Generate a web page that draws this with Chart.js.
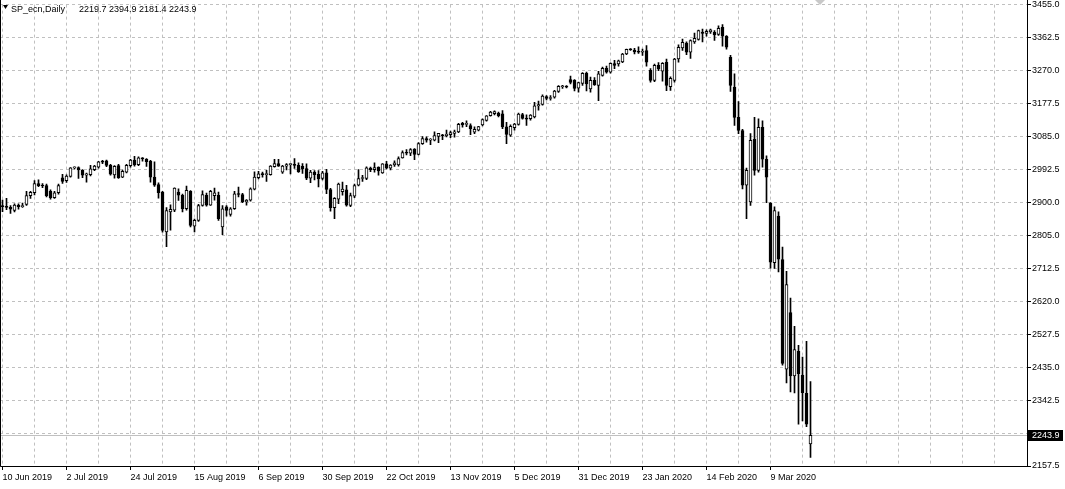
<!DOCTYPE html>
<html>
<head>
<meta charset="utf-8">
<script src="https://cdn.jsdelivr.net/npm/chart.js@4.4.1/dist/chart.umd.min.js"></script>
<style>
html, body { margin: 0; padding: 0; background: #fff; }
canvas { display: block; }
</style>
</head>
<body>
<canvas id="chart" width="1065" height="489"></canvas>
<script>
// SP_ecn, Daily - bougies
const dates = [
  '2019-06-10','2019-06-11','2019-06-12','2019-06-13','2019-06-14','2019-06-17','2019-06-18','2019-06-19','2019-06-20','2019-06-21',
  '2019-06-24','2019-06-25','2019-06-26','2019-06-27','2019-06-28','2019-07-01','2019-07-02','2019-07-03','2019-07-04','2019-07-05',
  '2019-07-08','2019-07-09','2019-07-10','2019-07-11','2019-07-12','2019-07-15','2019-07-16','2019-07-17','2019-07-18','2019-07-19',
  '2019-07-22','2019-07-23','2019-07-24','2019-07-25','2019-07-26','2019-07-29','2019-07-30','2019-07-31','2019-08-01','2019-08-02',
  '2019-08-05','2019-08-06','2019-08-07','2019-08-08','2019-08-09','2019-08-12','2019-08-13','2019-08-14','2019-08-15','2019-08-16',
  '2019-08-19','2019-08-20','2019-08-21','2019-08-22','2019-08-23','2019-08-26','2019-08-27','2019-08-28','2019-08-29','2019-08-30',
  '2019-09-02','2019-09-03','2019-09-04','2019-09-05','2019-09-06','2019-09-09','2019-09-10','2019-09-11','2019-09-12','2019-09-13',
  '2019-09-16','2019-09-17','2019-09-18','2019-09-19','2019-09-20','2019-09-23','2019-09-24','2019-09-25','2019-09-26','2019-09-27',
  '2019-09-30','2019-10-01','2019-10-02','2019-10-03','2019-10-04','2019-10-07','2019-10-08','2019-10-09','2019-10-10','2019-10-11',
  '2019-10-14','2019-10-15','2019-10-16','2019-10-17','2019-10-18','2019-10-21','2019-10-22','2019-10-23','2019-10-24','2019-10-25',
  '2019-10-28','2019-10-29','2019-10-30','2019-10-31','2019-11-01','2019-11-04','2019-11-05','2019-11-06','2019-11-07','2019-11-08',
  '2019-11-11','2019-11-12','2019-11-13','2019-11-14','2019-11-15','2019-11-18','2019-11-19','2019-11-20','2019-11-21','2019-11-22',
  '2019-11-25','2019-11-26','2019-11-27','2019-11-28','2019-11-29','2019-12-02','2019-12-03','2019-12-04','2019-12-05','2019-12-06',
  '2019-12-09','2019-12-10','2019-12-11','2019-12-12','2019-12-13','2019-12-16','2019-12-17','2019-12-18','2019-12-19','2019-12-20',
  '2019-12-23','2019-12-24','2019-12-27','2019-12-30','2019-12-31','2020-01-02','2020-01-03','2020-01-06','2020-01-07','2020-01-08',
  '2020-01-09','2020-01-10','2020-01-13','2020-01-14','2020-01-15','2020-01-16','2020-01-17','2020-01-20','2020-01-21','2020-01-22',
  '2020-01-23','2020-01-24','2020-01-27','2020-01-28','2020-01-29','2020-01-30','2020-01-31','2020-02-03','2020-02-04','2020-02-05',
  '2020-02-06','2020-02-07','2020-02-10','2020-02-11','2020-02-12','2020-02-13','2020-02-14','2020-02-17','2020-02-18','2020-02-19',
  '2020-02-20','2020-02-21','2020-02-24','2020-02-25','2020-02-26','2020-02-27','2020-02-28','2020-03-02','2020-03-03','2020-03-04',
  '2020-03-05','2020-03-06','2020-03-09','2020-03-10','2020-03-11','2020-03-12','2020-03-13','2020-03-16','2020-03-17','2020-03-18',
  '2020-03-19','2020-03-20','2020-03-23'
];

const open = [
  2889,2887,2885,2876,2891,2887,2893,2918,2926,2952, 2946,2946,2930,2912,2926,2968,2960,2972,2996,2997,
  2989,2975,2977,2991,2998,3015,3016,3003,2976,3002, 2970,2984,3002,3018,3005,3023,3020,3014,2970,2949,
  2928,2816,2872,2877,2928,2919,2881,2930,2832,2848, 2890,2919,2891,2918,2919,2830,2886,2865,2881,2923,
  2921,2900,2905,2936,2968,2978,2977,2977,2999,3008, 2984,3001,3005,3006,3003,3000,2994,2967,2984,2978,
  2966,2982,2935,2884,2908,2929,2934,2890,2916,2947, 2966,2966,2995,2991,2998,2982,3007,2995,3004,3004,
  3024,3039,3037,3049,3034,3064,3078,3074,3074,3084, 3088,3086,3089,3093,3097,3121,3118,3115,3096,3102,
  3117,3129,3143,3148,3150,3148,3111,3088,3109,3118, 3146,3136,3134,3139,3170,3174,3196,3191,3195,3211,
  3224,3224,3244,3242,3220,3233,3262,3218,3242,3228, 3256,3276,3265,3289,3288,3294,3316,3329,3327,3322,
  3321,3326,3270,3242,3284,3268,3293,3224,3242,3302, 3333,3347,3321,3350,3357,3378,3374,3378,3377,3371,
  3391,3366,3307,3223,3138,3101,2947,2900,3076,2989, 3110,3020,2897,2729,2860,2738,2430,2589,2411,2480,
  2413,2362,2219.7
];
const high = [
  2905,2910,2890,2895,2895,2897,2930,2930,2960,2962, 2952,2950,2934,2930,2950,2978,2976,2997,2999,2999,
  2991,2981,3003,3003,3014,3017,3018,3006,3002,3006, 2990,3006,3020,3028,3027,3025,3022,3017,3013,2954,
  2930,2884,2892,2940,2937,2922,2945,2932,2852,2893, 2931,2925,2933,2939,2928,2890,2890,2884,2930,2942,
  2924,2907,2940,2985,2986,2984,2989,3002,3020,3020, 3003,3008,3008,3022,3010,3008,3007,2989,2988,2988,
  2986,2992,2938,2912,2953,2956,2947,2925,2950,2991, 2975,2999,2998,3010,2999,3008,3014,3005,3016,3027,
  3044,3047,3050,3050,3067,3084,3083,3078,3097,3093, 3090,3102,3099,3102,3121,3124,3128,3120,3111,3113,
  3134,3143,3155,3156,3153,3157,3124,3117,3121,3150, 3149,3145,3146,3180,3184,3201,3199,3199,3214,3227,
  3228,3227,3254,3244,3237,3264,3265,3251,3250,3267, 3279,3282,3291,3298,3299,3318,3330,3331,3332,3336,
  3330,3340,3275,3288,3292,3292,3302,3252,3304,3342, 3358,3350,3356,3375,3383,3386,3384,3386,3382,3395,
  3399,3368,3312,3260,3182,3104,2995,3092,3138,3134, 3128,3030,2898,2886,2872,2773,2705,2630,2550,2497,
  2464,2508,2394.9
];
const low = [
  2873,2878,2868,2872,2880,2885,2890,2910,2920,2943, 2940,2914,2908,2910,2922,2952,2955,2970,2993,2966,
  2968,2956,2973,2988,2995,3008,2999,2975,2967,2966, 2968,2982,2998,3001,3002,3015,3000,2956,2944,2911,
  2815,2774,2821,2873,2904,2872,2877,2830,2816,2845, 2888,2888,2890,2905,2848,2808,2860,2860,2879,2914,
  2898,2891,2902,2934,2965,2970,2958,2975,2998,3000, 2980,2990,2979,2994,2983,2980,2963,2954,2962,2942,
  2962,2923,2874,2853,2895,2919,2888,2887,2912,2945, 2958,2963,2985,2984,2975,2980,2993,2990,3000,3001,
  3023,3032,3030,3019,3032,3062,3068,3061,3072,3067, 3075,3083,3081,3082,3095,3110,3112,3089,3092,3100,
  3114,3127,3141,3145,3139,3106,3064,3084,3102,3116, 3133,3115,3130,3136,3158,3172,3187,3186,3192,3208,
  3219,3221,3232,3212,3209,3228,3212,3209,3228,3185, 3254,3262,3262,3275,3282,3292,3314,3326,3316,3318,
  3312,3282,3237,3238,3269,3240,3213,3214,3237,3293, 3326,3314,3304,3346,3355,3350,3366,3374,3354,3368,
  3338,3330,3211,3115,3092,2937,2853,2890,2975,2984, 2998,2898,2714,2713,2703,2441,2391,2366,2363,2275,
  2284,2268,2181.4
];
const close = [
  2887,2885,2880,2891,2887,2890,2918,2927,2952,2946, 2945,2918,2912,2926,2946,2958,2973,2996,2997,2990,
  2975,2979,2993,3001,3013,3012,3003,2978,3000,2968, 2986,3003,3018,3004,3024,3021,3013,2970,2947,2926,
  2820,2876,2879,2939,2919,2881,2933,2834,2848,2890, 2921,2891,2930,2926,2853,2881,2876,2881,2923,2921,
  2900,2905,2937,2970,2979,2977,2978,3001,3008,3001, 3001,3005,3006,3003,2985,2993,2967,2984,2977,2965,
  2982,2935,2884,2910,2950,2936,2891,2918,2946,2966, 2968,2996,2991,2997,2987,3007,2995,3004,3010,3022,
  3039,3037,3047,3034,3064,3078,3074,3076,3087,3093, 3086,3091,3095,3097,3118,3117,3119,3106,3104,3112,
  3132,3142,3153,3154,3143,3111,3090,3113,3119,3147, 3135,3133,3144,3170,3174,3198,3191,3193,3212,3225,
  3225,3223,3236,3219,3236,3262,3232,3242,3230,3260, 3276,3265,3290,3284,3297,3316,3329,3328,3322,3321,
  3322,3293,3242,3284,3274,3290,3228,3248,3302,3335, 3349,3321,3354,3360,3382,3374,3380,3384,3370,3388,
  3366,3335,3228,3138,3101,2947,2989,3073,2989,3110, 3020,2970,2731,2876,2739,2446,2668,2411,2485,2417,
  2364,2275,2243.9
];

// graduations de l'axe des prix (de haut en bas)
const yTickLabels = ['3455.0','3362.5','3270.0','3177.5','3085.0','2992.5','2900.0','2805.0',
                     '2712.5','2620.0','2527.5','2435.0','2342.5','2250.0','2157.5'];
const yTop = 3455.0;
const yBottom = 2157.5;

const symbolName = 'SP_ecn,Daily';
const months = ['Jan','Feb','Mar','Apr','May','Jun','Jul','Aug','Sep','Oct','Nov','Dec'];

const FONT = '"Liberation Sans", Arial, sans-serif';
const GRID = '#c0c0c0';

const fmtDate = (s) => {
    const p = s.split('-');
    return parseInt(p[2], 10) + ' ' + months[parseInt(p[1], 10) - 1] + ' ' + p[0];
};

// lignes verticales toutes les 8 barres, étiquettes toutes les 16
const xGrid = [];
for (let v = 0; v <= 248; v += 8) xGrid.push(v);

const bodies = dates.map((d, i) => ({ x: i, y: [open[i], close[i]] }));
const wicks = dates.map((d, i) => ({ x: i, y: [low[i], high[i]] }));

const last = close.length - 1;

// Dessins façon MetaTrader (ligne de prix, cadre, étiquettes)
const mtPlugin = {
    id: 'mtDecor',
    beforeDatasetsDraw(chart) {
        const { ctx, chartArea: a, scales: { y } } = chart;
        const py = Math.round(y.getPixelForValue(close[last])) + 0.5;
        ctx.save();
        ctx.strokeStyle = GRID;
        ctx.lineWidth = 1;
        ctx.beginPath();
        ctx.moveTo(a.left, py);
        ctx.lineTo(a.right, py);
        ctx.stroke();
        ctx.restore();
    },
    afterDraw(chart) {
        const { ctx, chartArea: a, scales: { y } } = chart;
        ctx.save();

        // cadre
        ctx.strokeStyle = '#000';
        ctx.lineWidth = 1;
        ctx.beginPath();
        ctx.moveTo(0.5, 0);
        ctx.lineTo(0.5, a.bottom + 0.5);
        ctx.lineTo(a.right + 0.5, a.bottom + 0.5);
        ctx.lineTo(a.right + 0.5, 0);
        ctx.stroke();

        // étiquette du dernier prix
        const py = Math.round(y.getPixelForValue(close[last]));
        ctx.fillStyle = '#000';
        ctx.fillRect(a.right + 1, py - 5, 35, 11);
        ctx.fillStyle = '#fff';
        ctx.font = '9px ' + FONT;
        ctx.textBaseline = 'middle';
        ctx.textAlign = 'left';
        ctx.fillText(close[last].toFixed(1), a.right + 5, py + 0.5);

        // légende en haut à gauche
        ctx.fillStyle = '#000';
        ctx.beginPath();
        ctx.moveTo(3, 5);
        ctx.lineTo(8, 5);
        ctx.lineTo(5.5, 9);
        ctx.closePath();
        ctx.fill();
        ctx.textBaseline = 'alphabetic';
        ctx.fillText(symbolName, 11, 12);
        const ohlc = [open[last], high[last], low[last], close[last]].map(v => v.toFixed(1)).join(' ');
        ctx.fillText(ohlc, 79, 12);

        // repère gris de décalage
        ctx.fillStyle = '#c8c8c8';
        ctx.beginPath();
        ctx.moveTo(815, 0);
        ctx.lineTo(825, 0);
        ctx.lineTo(820, 5);
        ctx.closePath();
        ctx.fill();

        ctx.restore();
    }
};

const chartEl = document.getElementById('chart');

if (chartEl && typeof Chart !== 'undefined') {
    new Chart(chartEl.getContext('2d'), {
        type: 'bar',
        data: {
            datasets: [{
                label: 'corps',
                data: bodies,
                order: 0,
                grouped: false,
                barThickness: 3,
                minBarLength: 1,
                borderWidth: 1,
                borderColor: '#000',
                borderSkipped: false,
                backgroundColor: (c) => close[c.dataIndex] >= open[c.dataIndex] ? '#fff' : '#000'
            }, {
                label: 'mèches',
                data: wicks,
                order: 1,
                grouped: false,
                barThickness: 1,
                minBarLength: 1,
                borderWidth: 0,
                backgroundColor: '#000'
            }]
        },
        options: {
            responsive: false,
            animation: false,
            events: [],
            layout: { padding: { top: 4, left: 0, right: 0, bottom: 0 } },
            plugins: { legend: { display: false }, tooltip: { enabled: false } },
            scales: {
                x: {
                    type: 'linear',
                    min: -0.625,
                    max: 256.125,
                    offset: false,
                    afterBuildTicks: (s) => { s.ticks = xGrid.map(v => ({ value: v })); },
                    afterFit: (s) => { s.height = 23; },
                    grid: {
                        offset: false,
                        color: GRID,
                        lineWidth: 1,
                        tickLength: 4,
                        tickBorderDash: [],
                        tickColor: (c) => (c.tick && c.tick.value % 16 === 0 && c.tick.value < dates.length) ? '#000' : 'rgba(0,0,0,0)'
                    },
                    border: { display: false, dash: [3, 3] },
                    ticks: {
                        autoSkip: false,
                        maxRotation: 0,
                        align: 'start',
                        padding: 2,
                        color: '#000',
                        font: { family: FONT, size: 9 },
                        callback: (v) => (v % 16 === 0 && v < dates.length) ? fmtDate(dates[v]) : ''
                    }
                },
                y: {
                    position: 'right',
                    min: yBottom,
                    max: yTop,
                    afterBuildTicks: (s) => {
                        const step = (yTop - yBottom) / (yTickLabels.length - 1);
                        s.ticks = yTickLabels.map((t, k) => ({ value: yTop - k * step }));
                    },
                    afterFit: (s) => { s.width = 38; },
                    grid: {
                        color: GRID,
                        lineWidth: 1,
                        tickLength: 4,
                        tickBorderDash: [],
                        tickColor: '#000'
                    },
                    border: { display: false, dash: [3, 3] },
                    ticks: {
                        autoSkip: false,
                        padding: 1,
                        color: '#000',
                        font: { family: FONT, size: 9, lineHeight: 0.8 },
                        callback: (v, k) => yTickLabels[k]
                    }
                }
            }
        },
        plugins: [mtPlugin]
    });
}
</script>
</body>
</html>
